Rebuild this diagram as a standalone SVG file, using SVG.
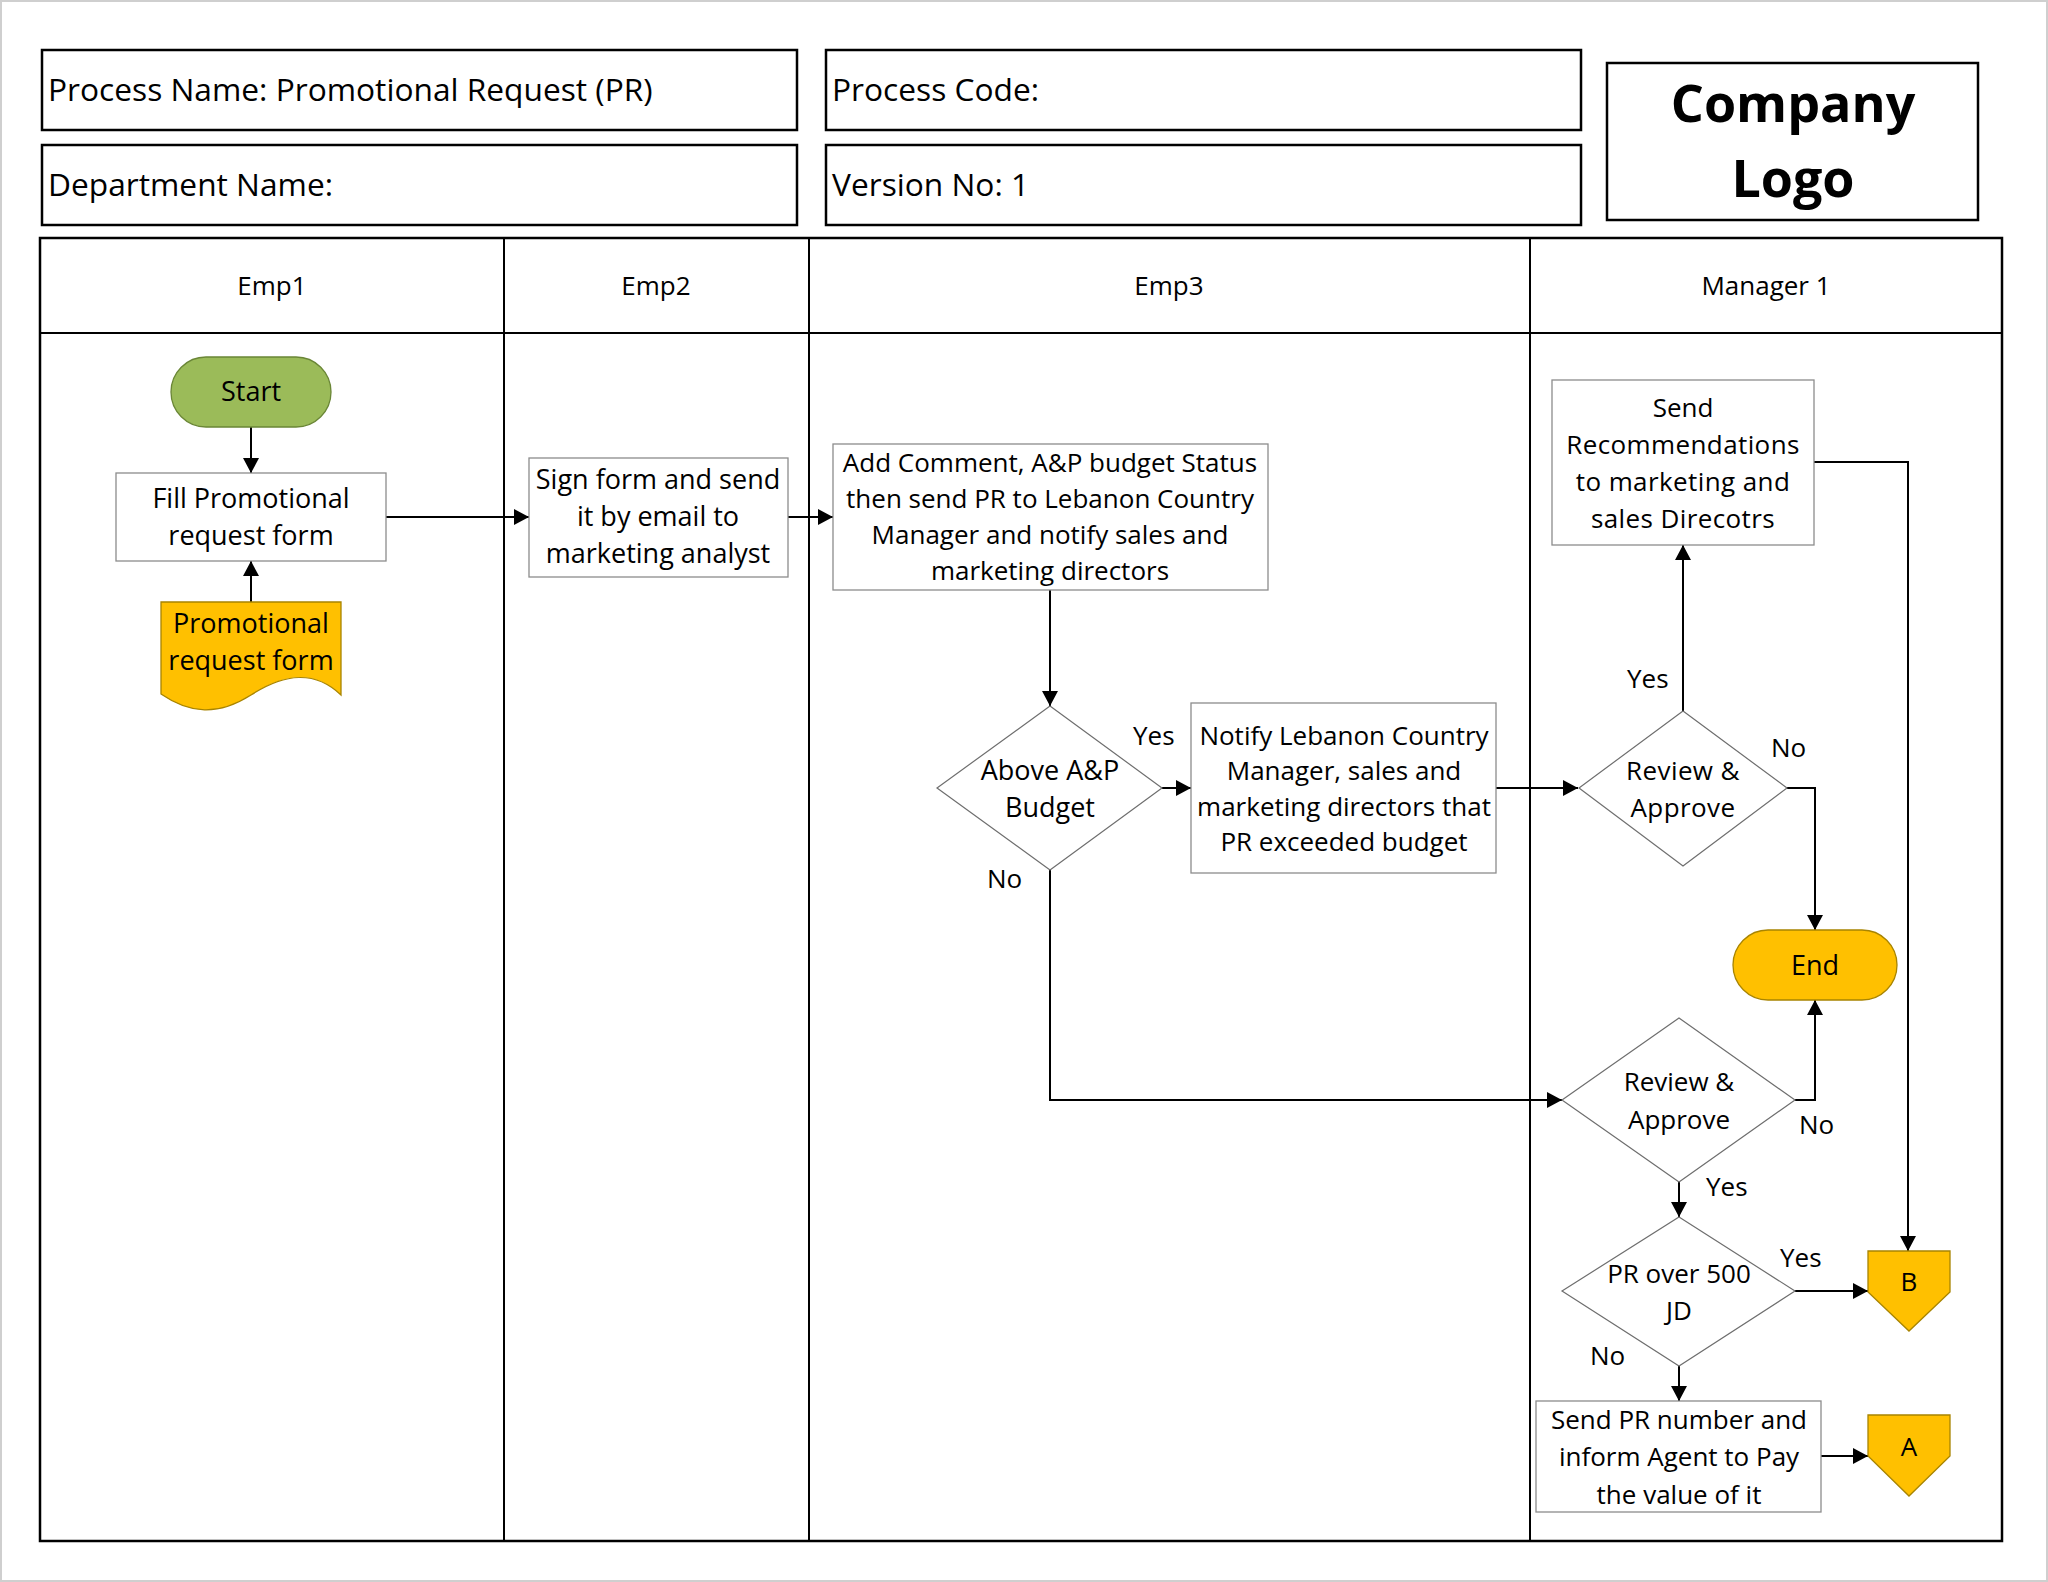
<svg xmlns="http://www.w3.org/2000/svg" width="2048" height="1582" viewBox="0 0 2048 1582">
<style>
  text { font-family: "Open Sans", "Liberation Sans", sans-serif; fill: #000; }
  .hdr { font-size: 31.7px; }
  .lane { font-size: 26px; text-anchor: middle; }
  .t { font-size: 26px; text-anchor: middle; }
  .t27 { font-size: 27px; text-anchor: middle; }
  .lbl { font-size: 26px; }
  .logo { font-size: 52px; font-weight: bold; text-anchor: middle; }
  .frame { fill: #fff; stroke: #000; stroke-width: 2.5; }
  .box { fill: #fff; stroke: #8c8c8c; stroke-width: 1.3; }
  .dia { fill: #fff; stroke: #6e6e6e; stroke-width: 1.2; }
  .gold { fill: #FFC000; stroke: #a88400; stroke-width: 1.3; }
  .green { fill: #9BBB59; stroke: #6a8636; stroke-width: 1.3; }
  .conn { fill: none; stroke: #000; stroke-width: 2; marker-end: url(#arr); }
  .line { fill: none; stroke: #000; stroke-width: 2; }
</style>
<defs>
  <marker id="arr" markerUnits="userSpaceOnUse" markerWidth="16" markerHeight="16" refX="15" refY="8" orient="auto">
    <path d="M0,0 L15,8 L0,16 Z" fill="#000"/>
  </marker>
</defs>

<rect x="1" y="1" width="2046" height="1580" fill="#fff" stroke="#cfcfcf" stroke-width="2"/>

<!-- Header -->
<g id="header">
  <rect class="frame" x="42" y="50" width="755" height="80"/>
  <text class="hdr" x="48" y="101">Process Name: Promotional Request (PR)</text>
  <rect class="frame" x="42" y="145" width="755" height="80"/>
  <text class="hdr" x="48" y="196">Department Name:</text>
  <rect class="frame" x="826" y="50" width="755" height="80"/>
  <text class="hdr" x="832" y="101">Process Code:</text>
  <rect class="frame" x="826" y="145" width="755" height="80"/>
  <text class="hdr" x="832" y="196">Version No: 1</text>
  <rect class="frame" x="1607" y="63" width="371" height="157"/>
  <text class="logo" x="1793" y="122">Company</text>
  <text class="logo" x="1793" y="197">Logo</text>
</g>

<!-- Swimlanes -->
<g id="lanes">
  <rect class="frame" x="40" y="238" width="1962" height="1303" fill="none"/>
  <line class="line" x1="40" y1="333" x2="2002" y2="333" stroke-width="2.5"/>
  <line class="line" x1="504" y1="238" x2="504" y2="1541" stroke-width="2.5"/>
  <line class="line" x1="809" y1="238" x2="809" y2="1541" stroke-width="2.5"/>
  <line class="line" x1="1530" y1="238" x2="1530" y2="1541" stroke-width="2.5"/>
  <text class="lane" x="272" y="295">Emp1</text>
  <text class="lane" x="656" y="295">Emp2</text>
  <text class="lane" x="1169" y="295">Emp3</text>
  <text class="lane" x="1766" y="295">Manager 1</text>
</g>

<!-- Connectors -->
<g id="connectors">
  <path class="conn" d="M251,427 V473"/>
  <path class="conn" d="M251,602 V561"/>
  <path class="conn" d="M386,517 H529"/>
  <path class="conn" d="M788,517 H833"/>
  <path class="conn" d="M1050,590 V706"/>
  <path class="conn" d="M1162,788 H1191"/>
  <path class="conn" d="M1496,788 H1578"/>
  <path class="conn" d="M1683,711 V545"/>
  <path class="conn" d="M1787,788 H1815 V930"/>
  <path class="conn" d="M1050,870 V1100 H1562"/>
  <path class="conn" d="M1795,1100 H1815 V1000"/>
  <path class="conn" d="M1679,1182 V1217"/>
  <path class="conn" d="M1795,1291 H1868"/>
  <path class="conn" d="M1814,462 H1908 V1251"/>
  <path class="conn" d="M1679,1366 V1401"/>
  <path class="conn" d="M1821,1456 H1868"/>
  <text class="lbl" x="1133" y="745">Yes</text>
  <text class="lbl" x="987" y="888">No</text>
  <text class="lbl" x="1627" y="688">Yes</text>
  <text class="lbl" x="1771" y="757">No</text>
  <text class="lbl" x="1799" y="1134">No</text>
  <text class="lbl" x="1706" y="1196">Yes</text>
  <text class="lbl" x="1780" y="1267">Yes</text>
  <text class="lbl" x="1590" y="1365">No</text>
</g>

<!-- Nodes -->
<g id="start">
  <rect class="green" x="171" y="357" width="160" height="70" rx="35" ry="35"/>
  <text class="t27" x="251" y="401">Start</text>
</g>
<g id="fill-form">
  <rect class="box" x="116" y="473" width="270" height="88"/>
  <text class="t27" x="251" y="508">Fill Promotional</text>
  <text class="t27" x="251" y="545">request form</text>
</g>
<g id="doc-form">
  <path class="gold" d="M161,602 H341 V695 C315,670 285,673 251,695 C218,716 190,714 161,694 Z"/>
  <text class="t27" x="251" y="633">Promotional</text>
  <text class="t27" x="251" y="670">request form</text>
</g>
<g id="sign-form">
  <rect class="box" x="529" y="458" width="259" height="119"/>
  <text class="t27" x="658" y="489">Sign form and send</text>
  <text class="t27" x="658" y="526">it by email to</text>
  <text class="t27" x="658" y="563">marketing analyst</text>
</g>
<g id="add-comment">
  <rect class="box" x="833" y="444" width="435" height="146"/>
  <text class="t" x="1050" y="472">Add Comment, A&amp;P budget Status</text>
  <text class="t" x="1050" y="508">then send PR to Lebanon Country</text>
  <text class="t" x="1050" y="544">Manager and notify sales and</text>
  <text class="t" x="1050" y="580">marketing directors</text>
</g>
<g id="above-budget">
  <polygon class="dia" points="1050,706 1162,788 1050,870 937,788"/>
  <text class="t27" x="1050" y="780">Above A&amp;P</text>
  <text class="t27" x="1050" y="817">Budget</text>
</g>
<g id="notify">
  <rect class="box" x="1191" y="703" width="305" height="170"/>
  <text class="t" x="1344" y="745">Notify Lebanon Country</text>
  <text class="t" x="1344" y="780">Manager, sales and</text>
  <text class="t" x="1344" y="816">marketing directors that</text>
  <text class="t" x="1344" y="851">PR exceeded budget</text>
</g>
<g id="send-recommendations">
  <rect class="box" x="1552" y="380" width="262" height="165"/>
  <text class="t" x="1683" y="417">Send</text>
  <text class="t" x="1683" y="454" letter-spacing="0.4">Recommendations</text>
  <text class="t" x="1683" y="491" letter-spacing="0.4">to marketing and</text>
  <text class="t" x="1683" y="528" letter-spacing="0.4">sales Direcotrs</text>
</g>
<g id="review-1">
  <polygon class="dia" points="1683,711 1787,788 1683,866 1579,788"/>
  <text class="t" x="1683" y="780" letter-spacing="0.4">Review &amp;</text>
  <text class="t" x="1683" y="817" letter-spacing="0.4">Approve</text>
</g>
<g id="end">
  <rect class="gold" x="1733" y="930" width="164" height="70" rx="35" ry="35"/>
  <text class="t27" x="1815" y="975">End</text>
</g>
<g id="review-2">
  <polygon class="dia" points="1679,1018 1795,1100 1679,1182 1562,1100"/>
  <text class="t" x="1679" y="1091">Review &amp;</text>
  <text class="t" x="1679" y="1129">Approve</text>
</g>
<g id="pr-over-500">
  <polygon class="dia" points="1679,1217 1795,1291 1679,1366 1562,1291"/>
  <text class="t" x="1679" y="1283">PR over 500</text>
  <text class="t" x="1679" y="1320">JD</text>
</g>
<g id="send-pr">
  <rect class="box" x="1536" y="1401" width="285" height="111"/>
  <text class="t" x="1679" y="1429">Send PR number and</text>
  <text class="t" x="1679" y="1466">inform Agent to Pay</text>
  <text class="t" x="1679" y="1504">the value of it</text>
</g>
<g id="connector-b">
  <polygon class="gold" points="1868,1251 1950,1251 1950,1292 1909,1331 1868,1292"/>
  <text class="t" x="1909" y="1291">B</text>
</g>
<g id="connector-a">
  <polygon class="gold" points="1868,1415 1950,1415 1950,1456 1909,1496 1868,1456"/>
  <text class="t" x="1909" y="1456">A</text>
</g>
</svg>
